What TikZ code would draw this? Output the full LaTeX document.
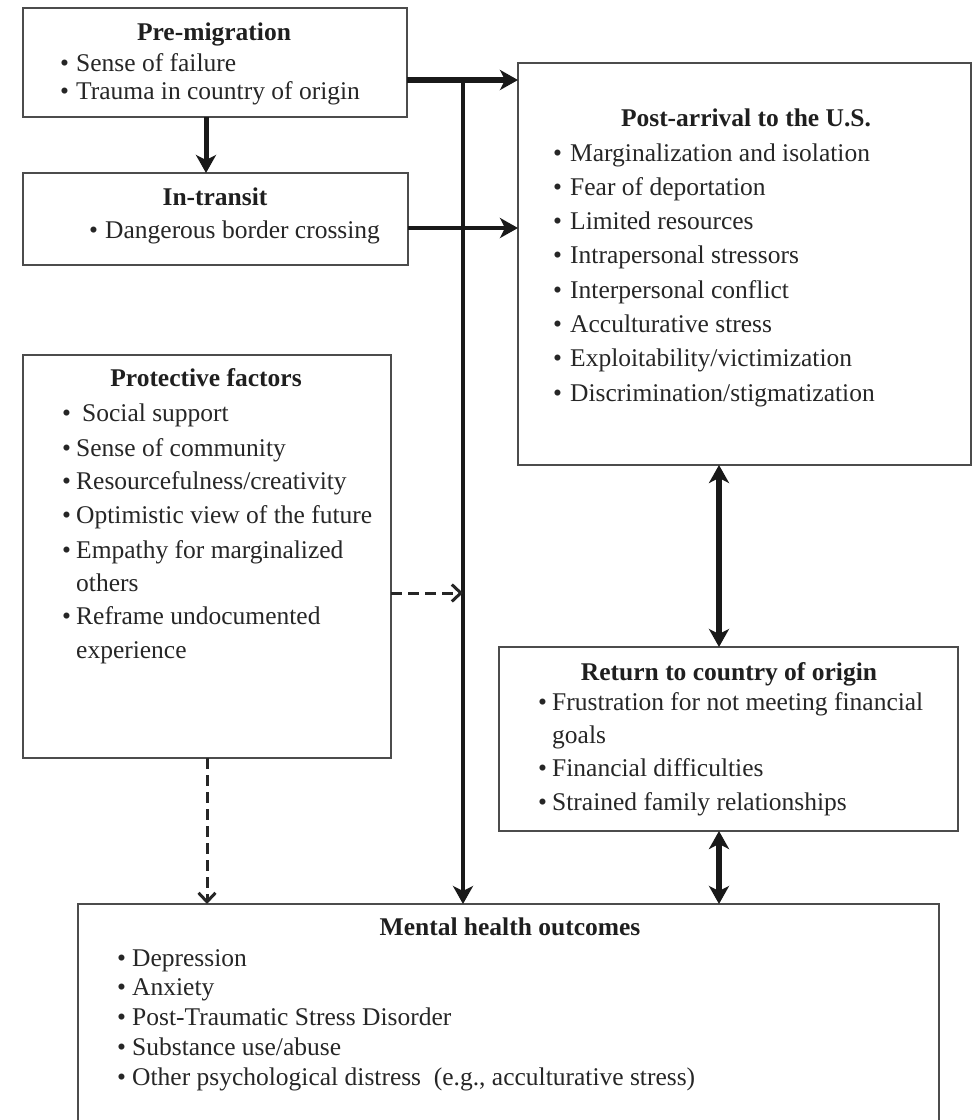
\documentclass[tikz,border=0pt]{standalone}
\usepackage{fontspec}
\setmainfont{Liberation Serif}
\usetikzlibrary{arrows.meta}
\begin{document}
\begin{tikzpicture}[x=1pt,y=-1pt,
  box/.style={draw=black!70, line width=2.2pt, inner sep=0pt, outer sep=0pt, anchor=north west, fill=none},
  txt/.style={font=\fontsize{25.5}{30}\selectfont, text=black!85, inner sep=0pt, anchor=base west},
  ttl/.style={font=\fontsize{25.5}{30}\selectfont\bfseries, text=black!88, inner sep=0pt, anchor=base},
  bigarr/.style={line width=5pt, draw=black!90, -{Stealth[length=18pt,width=20pt,inset=5pt]}},
  twoarr/.style={line width=5.5pt, draw=black!90, {Stealth[length=18pt,width=20pt,inset=5pt]}-{Stealth[length=18pt,width=20pt,inset=5pt]}},
  dasharr/.style={line width=3pt, draw=black!85, dash pattern=on 11pt off 6pt, -{Straight Barb[length=9pt,width=17pt,line width=3pt]}}
]
\useasboundingbox (0,0) rectangle (973,1120);

% boxes
\node[box, minimum width=384pt, minimum height=109pt] (pre) at (23,8) {};
\node[box, minimum width=385pt, minimum height=92pt] (transit) at (23,173) {};
\node[box, minimum width=453pt, minimum height=402pt] (post) at (518,63) {};
\node[box, minimum width=368pt, minimum height=403pt] (prot) at (23,355) {};
\node[box, minimum width=459pt, minimum height=184pt] (ret) at (499,647) {};
\node[box, minimum width=861pt, minimum height=240pt] (mh) at (78,904) {};

% Pre-migration
\node[ttl] (preT) at (214,40) {Pre-migration};
\foreach \t [count=\i] in {Sense of failure, Trauma in country of origin} {
  \node[txt] (preB\i) at (60,{71+28*(\i-1)}) {•};
  \node[txt] (preI\i) at (76,{71+28*(\i-1)}) {\t};
}

% In-transit
\node[ttl] (trT) at (215,205) {In-transit};
\node[txt] (trB1) at (89,238) {•};
\node[txt] (trI1) at (105,238) {Dangerous border crossing};

% Post-arrival
\node[ttl] (paT) at (746,126) {Post-arrival to the U.S.};
\foreach \t [count=\i] in {Marginalization and isolation, Fear of deportation, Limited resources, Intrapersonal stressors, Interpersonal conflict, Acculturative stress, Exploitability/victimization, Discrimination/stigmatization} {
  \node[txt] (paB\i) at (553,{161+34.3*(\i-1)}) {•};
  \node[txt] (paI\i) at (570,{161+34.3*(\i-1)}) {\t};
}

% Protective factors
\node[ttl] (prT) at (206,386) {Protective factors};
\node[txt] (prB1) at (62,421) {•};
\node[txt] (prI1) at (82,421) {Social support};
\node[txt] (prB2) at (62,456) {•};
\node[txt] (prI2) at (76,456) {Sense of community};
\node[txt] (prB3) at (62,489.5) {•};
\node[txt] (prI3) at (76,489.5) {Resourcefulness/creativity};
\node[txt] (prB4) at (62,523.5) {•};
\node[txt] (prI4) at (76,523.5) {Optimistic view of the future};
\node[txt] (prB5) at (62,558) {•};
\node[txt] (prI5) at (76,558) {Empathy for marginalized};
\node[txt] (prI5b) at (76,591) {others};
\node[txt] (prB6) at (62,624.5) {•};
\node[txt] (prI6) at (76,624.5) {Reframe undocumented};
\node[txt] (prI6b) at (76,658) {experience};

% Return
\node[ttl] (rtT) at (729,680) {Return to country of origin};
\node[txt] (rtB1) at (538,710) {•};
\node[txt] (rtI1) at (552,710) {Frustration for not meeting financial};
\node[txt] (rtI1b) at (552,743) {goals};
\node[txt] (rtB2) at (538,776) {•};
\node[txt] (rtI2) at (552,776) {Financial difficulties};
\node[txt] (rtB3) at (538,810) {•};
\node[txt] (rtI3) at (552,810) {Strained family relationships};

% Mental health
\node[ttl] (mhT) at (510,935) {Mental health outcomes};
\foreach \t [count=\i] in {Depression, Anxiety, Post-Traumatic Stress Disorder, Substance use/abuse, {Other psychological distress\ \ (e.g., acculturative stress)}} {
  \node[txt] (mhB\i) at (117,{966+29.8*(\i-1)}) {•};
  \node[txt] (mhI\i) at (132,{966+29.8*(\i-1)}) {\t};
}

% connector coordinates
\coordinate (j1) at (463,80);
\coordinate (j2) at (463,228);
\coordinate (c1) at (206,0);
\coordinate (d1) at (463,593);
\coordinate (d2) at (207,0);
\coordinate (b1) at (719,0);

% connectors
\draw[bigarr] (pre.south -| c1) -- (transit.north -| c1);
\draw[bigarr, line width=5.5pt] (pre.east |- j1) -- (post.west |- j1);
\draw[bigarr, line width=4.2pt] (transit.east |- j2) -- (post.west |- j2);
\draw[bigarr, line width=4.5pt] (j1) -- (j1 |- mh.north);
\draw[dasharr] (prot.east |- d1) -- (d1);
\draw[dasharr] (prot.south -| d2) -- (mh.north -| d2);
\draw[twoarr] (post.south -| b1) -- (ret.north -| b1);
\draw[twoarr] (ret.south -| b1) -- (mh.north -| b1);
\end{tikzpicture}
\end{document}
